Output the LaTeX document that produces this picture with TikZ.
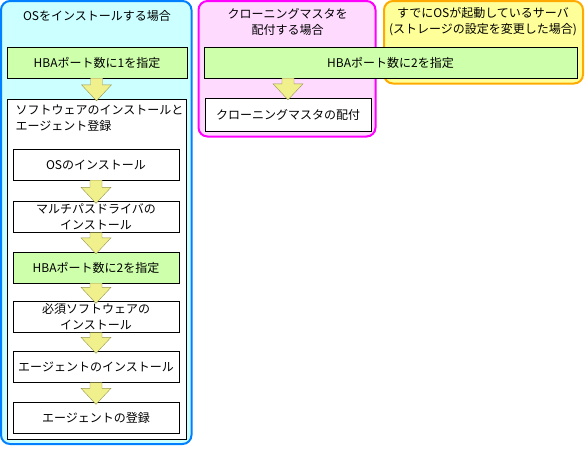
\documentclass[tikz,border=0pt]{standalone}
\usepackage{fontspec}
\setmainfont{Noto Sans CJK JP}
\usetikzlibrary{calc}

\definecolor{panelblue}{RGB}{0,128,255}
\definecolor{panelcyan}{RGB}{204,255,255}
\definecolor{panelmagenta}{RGB}{255,0,255}
\definecolor{panelpink}{RGB}{255,218,255}
\definecolor{panelorange}{RGB}{255,170,0}
\definecolor{panelyellow}{RGB}{255,255,153}
\definecolor{hbagreen}{RGB}{206,255,170}
\definecolor{arrowfill}{RGB}{240,240,140}
\definecolor{arrowline}{RGB}{150,150,80}

% block arrow from the bottom of one box to the top of the next
\newcommand{\flowarrow}[2]{%
  \draw[flowarrow] let \p1=(#1.south), \p2=(#2.north) in
    (\x2-6pt,\y1) -- (\x2+6pt,\y1) -- (\x2+6pt,\y2+14pt) -- (\x2+15pt,\y2+14pt)
    -- (\x2,\y2-2pt) -- (\x2-15pt,\y2+14pt) -- (\x2-6pt,\y2+14pt) -- cycle;}

\begin{document}
\begin{tikzpicture}[x=1pt,y=-1pt,
        every node/.style={font=\fontsize{12}{16}\selectfont,align=center},
        panel/.style={rounded corners=9pt,line width=2pt},
        stepbox/.style={draw=black,inner sep=0pt,minimum height=31pt},
        flowarrow/.style={draw=arrowline,fill=arrowfill}]
        \useasboundingbox (0,0) rectangle (585,448);
        % panels
        \draw[panel,draw=panelblue,fill=panelcyan] (1,1) rectangle (191.5,444);
        \draw[panel,draw=panelmagenta,fill=panelpink] (198.5,1) rectangle (375.5,136.5);
        \draw[panel,draw=panelorange,fill=panelyellow] (384,1) rectangle (583,83.5);
        \node (ostitle) at (97,15.5) {OSをインストールする場合};
        \node (clonetitle) at (287.5,22) {クローニングマスタを\\配付する場合};
        \node (runtitle) at (483,22) {すでにOSが起動しているサーバ\\(ストレージの設定を変更した場合)};
        % OS install
        \node[stepbox,fill=hbagreen,minimum width=180pt] (hbaone) at (97,62.5) {HBAポート数に1を指定};
        \node[stepbox,fill=white,minimum width=179pt,minimum height=340pt] (swbox) at (96.5,269) {};
        \node[anchor=west,align=left] (swtitle) at (12,118) {ソフトウェアのインストールと\\エージェント登録};
        \foreach \name/\y/\col/\txt in {osinst/164.5/white/OSのインストール,
                mpinst/217/white/マルチパスドライバの\\インストール,
                hbatwo/267.5/hbagreen/HBAポート数に2を指定,
                reqinst/317/white/必須ソフトウェアの\\インストール,
                aginst/367/white/エージェントのインストール,
                agreg/418/white/エージェントの登録} {
                \node[stepbox,fill=\col,minimum width=166pt] (\name) at (96,\y) {\txt};
            }
        % cloning master and running server
        \node[stepbox,fill=hbagreen,minimum width=373pt] (hbashared) at (390.5,62.5) {HBAポート数に2を指定};
        \node[stepbox,fill=white,minimum width=166pt,minimum height=33pt] (clone) at (288,114.5) {クローニングマスタの配付};
        \foreach \a/\b in {hbaone/swbox,osinst/mpinst,mpinst/hbatwo,hbatwo/reqinst,
                reqinst/aginst,aginst/agreg,hbashared/clone} {
                \flowarrow{\a}{\b}
            }
    \end{tikzpicture}
\end{document}
